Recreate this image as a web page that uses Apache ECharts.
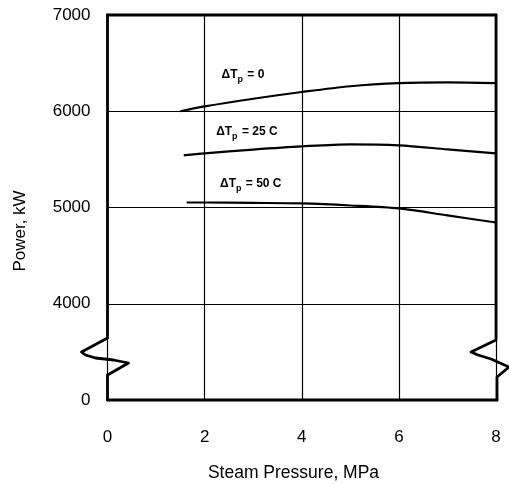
<!DOCTYPE html>
<html>
<head>
<meta charset="utf-8">
<script src="https://cdn.jsdelivr.net/npm/echarts@6/dist/echarts.min.js"></script>
<style>
html,body{margin:0;padding:0;background:#fff;}
#c{width:509px;height:485px;}
</style>
</head>
<body>
<div id="c"></div>
<script>
// ---- data ----
const xTickValues = [0, 2, 4, 6, 8];
const yTickValues = [3000, 4000, 5000, 6000, 7000];
const yTickLabels = ['0', '4000', '5000', '6000', '7000'];

const pressure0 = [1.5, 2, 3, 4, 5, 6, 7, 8];
const power0 = [6000, 6050, 6130, 6200, 6260, 6292, 6300, 6292];
const pressure25 = [1.57, 2, 3, 4, 5, 6, 7, 8];
const power25 = [5542, 5563, 5602, 5635, 5656, 5646, 5604, 5562];
const pressure50 = [1.63, 2, 3, 4, 5, 6, 7, 8];
const power50 = [5052, 5052, 5048, 5042, 5021, 4990, 4918, 4844];

const curveLabelMain = ['ΔT', 'ΔT', 'ΔT'];
const curveLabelSub = ['p', 'p', 'p'];
const curveLabelTail = [' = 0', ' = 25 C', ' = 50 C'];

const xAxisTitle = 'Steam Pressure, MPa';
const yAxisTitle = 'Power, kW';

// ---- layout (not data) ----
const labelAnchors = [[2.79, 6385], [2.87, 5790], [2.95, 5250]];
const FONT = 'Liberation Sans, Arial, sans-serif';

function pairs(xs, ys) { return xs.map((x, i) => [x, ys[i]]); }

const chart = echarts.init(document.getElementById('c'), null, {renderer: 'canvas'});

const lineStyle = {color: '#000', width: 2.2};
chart.setOption({
  animation: false,
  backgroundColor: '#fff',
  grid: {left: 107.5, right: 13, top: 15, bottom: 85, containLabel: false},
  xAxis: {
    type: 'value', min: 0, max: 8, interval: 2,
    axisLine: {show: false}, axisTick: {show: false},
    splitLine: {show: true, lineStyle: {color: '#000', width: 1.2}},
    axisLabel: {color: '#000', fontFamily: FONT, fontSize: 17, margin: 29,
      formatter: v => (xTickValues.indexOf(v) >= 0 ? String(v) : '')}
  },
  yAxis: {
    type: 'value', min: 3000, max: 7000, interval: 1000,
    axisLine: {show: false}, axisTick: {show: false},
    splitLine: {show: true, lineStyle: {color: '#000', width: 1.2}},
    axisLabel: {color: '#000', fontFamily: FONT, fontSize: 17, margin: 17,
      formatter: v => { const i = yTickValues.indexOf(v); return i >= 0 ? yTickLabels[i] : ''; }}
  },
  series: [
    {type: 'line', data: pairs(pressure0, power0), smooth: 0.3, symbol: 'none', lineStyle: lineStyle},
    {type: 'line', data: pairs(pressure25, power25), smooth: 0.3, symbol: 'none', lineStyle: lineStyle},
    {type: 'line', data: pairs(pressure50, power50), smooth: 0.3, symbol: 'none', lineStyle: lineStyle}
  ]
});

// ---- frame with axis breaks, titles and curve labels ----
const P = (x, y) => chart.convertToPixel({gridIndex: 0}, [x, y]);
const tl = P(0, 7000), br = P(8, 3000);
const L = tl[0], R = br[0], T = tl[1], B = br[1];
const frameStyle = {stroke: '#000', lineWidth: 2.8, fill: null, lineJoin: 'round', lineCap: 'round'};

// break shapes: offsets [dx, dy from bottom]
const leftBreak = [[0, -62], [-26, -48], [-22, -45], [-12, -42], [6, -40], [21, -37], [0, -25], [0, 0]];
const rightBreak = [[0, -60], [-25, -48], [-18, -45], [-5, -41], [13, -33], [1, -23], [1, 0]];

const leftPts = [[L, T]].concat(leftBreak.map(p => [L + p[0], B + p[1]]));
const rightPts = [[R, T]].concat(rightBreak.map(p => [R + p[0], B + p[1]]));

const graphics = [
  {type: 'polyline', shape: {points: leftPts}, style: frameStyle, z: 10},
  {type: 'polyline', shape: {points: rightPts}, style: frameStyle, z: 10},
  {type: 'line', shape: {x1: L, y1: T, x2: R, y2: T}, style: frameStyle, z: 10},
  {type: 'line', shape: {x1: L, y1: B, x2: R + 1, y2: B}, style: frameStyle, z: 10},
  {type: 'text', x: L + 186, y: B + 73, z: 11,
    style: {text: xAxisTitle, fontFamily: FONT, fontSize: 17.5, fill: '#000', align: 'center', verticalAlign: 'middle'}},
  {type: 'text', x: 20, y: B - 169, rotation: Math.PI / 2, z: 11,
    style: {text: yAxisTitle, fontFamily: FONT, fontSize: 17, fill: '#000', align: 'center', verticalAlign: 'middle'}}
];

labelAnchors.forEach((a, i) => {
  const p = P(a[0], a[1]);
  graphics.push({
    type: 'text', x: p[0], y: p[1], z: 11,
    style: {
      text: '{m|' + curveLabelMain[i] + '}{s|' + curveLabelSub[i] + '}{m|' + curveLabelTail[i] + '}',
      align: 'center', verticalAlign: 'middle',
      rich: {
        m: {fontFamily: FONT, fontSize: 12, fontWeight: 'bold', fill: '#000', lineHeight: 16},
        s: {fontFamily: FONT, fontSize: 9, fontWeight: 'bold', fill: '#000', padding: [10, 1, 0, 0], lineHeight: 16}
      }
    }
  });
});

chart.setOption({graphic: graphics});
</script>
</body>
</html>
